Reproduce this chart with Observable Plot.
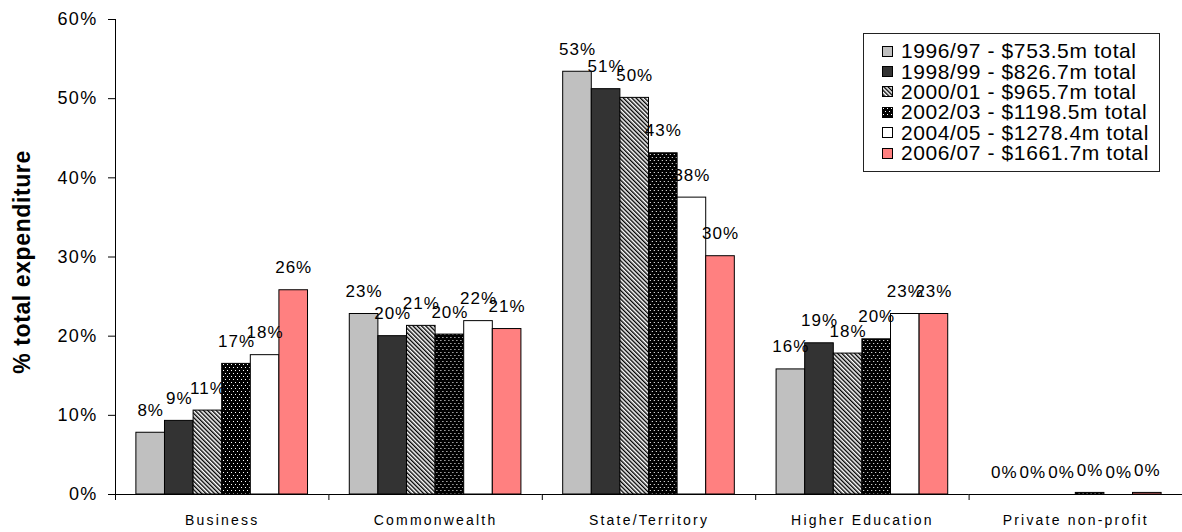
<!DOCTYPE html>
<html>
<head>
<meta charset="utf-8">
<script src="https://cdn.jsdelivr.net/npm/d3@7"></script>
<script src="https://cdn.jsdelivr.net/npm/@observablehq/plot@0.6"></script>
<style>
  body { margin: 0; background: #fff; font-family: "Liberation Sans", Arial, sans-serif; }
  #wrap { position: relative; width: 1182px; height: 532px; overflow: hidden; }
  #ytitle { position: absolute; left: 22px; top: 262px; transform: translate(-50%, -50%) rotate(-90deg);
            white-space: nowrap; font-weight: bold; font-size: 23px; letter-spacing: 0.6px; color: #000; }
  #legend { position: absolute; left: 863px; top: 33px; width: 297px; height: 139px; box-sizing: border-box;
            border: 1px solid #222; background: #fff; padding: 7px 0 0 18px; }
  .lrow { display: flex; align-items: center; height: 20.4px; font-size: 21px; letter-spacing: 0.6px; color: #000; white-space: nowrap; }
  .lrow svg { margin-right: 8px; flex: none; }
  .chart g[aria-label="fx-axis tick label"] text { letter-spacing: 2.2px; }
  .chart g[aria-label="y-axis tick label"] text { letter-spacing: 1.3px; }
  .chart g[aria-label="text"] text { letter-spacing: 1px; }
</style>
</head>
<body>
<div id="wrap"></div>
<script>
// ---- data ----
const categories = ["Business", "Commonwealth", "State/Territory", "Higher Education", "Private non-profit"];
const periods = ["1996/97", "1998/99", "2000/01", "2002/03", "2004/05", "2006/07"];
const legendLabels = [
  "1996/97 - $753.5m total",
  "1998/99 - $826.7m total",
  "2000/01 - $965.7m total",
  "2002/03 - $1198.5m total",
  "2004/05 - $1278.4m total",
  "2006/07 - $1661.7m total"
];
const business         = [7.8, 9.3, 10.6, 16.5, 17.6, 25.8];
const commonwealth     = [22.8, 20.0, 21.3, 20.2, 21.9, 20.9];
const stateTerritory   = [53.4, 51.2, 50.1, 43.1, 37.5, 30.1];
const higherEducation  = [15.8, 19.1, 17.8, 19.6, 22.8, 22.8];
const privateNonProfit = [0, 0, 0, 0.2, 0, 0.2];
const yTicks = [0, 10, 20, 30, 40, 50, 60];

// ---- styles ----
const fills = ["#c0c0c0", "#333333", "url(#hatch)", "url(#dots)", "#ffffff", "#ff8080"];

const valueSets = [business, commonwealth, stateTerritory, higherEducation, privateNonProfit];
const rows = categories.flatMap((cat, ci) =>
  periods.map((period, pi) => ({cat, period, value: valueSets[ci][pi], fill: fills[pi]}))
);

const W = 1182, H = 532, ML = 115, MR = 0, MT = 19, MB = 38;
const pOuter = 0.73;
const facetW = (W - ML - MR) / categories.length;
const step = facetW / (periods.length + 2 * pOuter);
const boundaryOffset = step * (0.5 + pOuter);

const chart = Plot.plot({
  width: W,
  height: H,
  marginLeft: ML,
  marginRight: MR,
  marginTop: MT,
  marginBottom: MB,
  className: "chart",
  style: {fontFamily: "'Liberation Sans', Arial, sans-serif", fontSize: "17px", background: "#fff", color: "#000"},
  fx: {domain: categories, padding: 0, round: false, label: null, axis: null},
  x: {domain: periods, paddingInner: 0, paddingOuter: pOuter, round: false, axis: null},
  y: {domain: [0, 60], axis: null},
  color: {type: "identity"},
  marks: [
    Plot.barY(rows, {fx: "cat", x: "period", y: "value", fill: "fill", stroke: "#000", strokeWidth: 1}),
    Plot.text(rows, {fx: "cat", x: "period", y: "value", text: d => Math.round(d.value) + "%",
      lineAnchor: "bottom", dy: -17, fontSize: 17, fill: "#000"}),
    Plot.ruleY([0], {stroke: "#000", strokeWidth: 1}),
    Plot.ruleX([periods[0]], {x: d => d, y1: 0, y2: 0, insetBottom: -6, dx: -boundaryOffset, stroke: "#000"}),
    Plot.ruleX([periods[0]], {fx: () => categories[0], x: d => d, y1: 0, y2: 60, dx: -boundaryOffset, stroke: "#000"}),
    Plot.axisY({ticks: yTicks, tickFormat: d => d + "%", tickSize: 7, tickPadding: 11, fontSize: 18, label: null, stroke: "#000"}),
    Plot.axisFx({anchor: "bottom", tickSize: 0, tickPadding: 21, fontSize: 14, label: null})
  ]
});

// patterns
const defs = d3.select(chart).insert("defs", ":first-child");
const hatch = defs.append("pattern").attr("id", "hatch").attr("patternUnits", "userSpaceOnUse")
  .attr("width", 3).attr("height", 3).attr("patternTransform", "rotate(-45)");
hatch.append("rect").attr("width", 3).attr("height", 3).attr("fill", "#fff");
hatch.append("rect").attr("width", 1.4).attr("height", 3).attr("fill", "#000");
const dots = defs.append("pattern").attr("id", "dots").attr("patternUnits", "userSpaceOnUse")
  .attr("width", 4).attr("height", 6);
dots.append("rect").attr("width", 4).attr("height", 6).attr("fill", "#000");
dots.append("rect").attr("x", 1).attr("y", 1).attr("width", 1).attr("height", 1).attr("fill", "#fff");
dots.append("rect").attr("x", 3).attr("y", 4).attr("width", 1).attr("height", 1).attr("fill", "#fff");

const wrap = document.getElementById("wrap");
wrap.appendChild(chart);

// y title
const yt = document.createElement("div");
yt.id = "ytitle";
yt.textContent = "% total expenditure";
wrap.appendChild(yt);

// legend
const legend = d3.select(wrap).append("div").attr("id", "legend");
legendLabels.forEach((lab, i) => {
  const row = legend.append("div").attr("class", "lrow");
  const s = row.append("svg").attr("width", 11).attr("height", 11);
  s.append("rect").attr("x", 0.5).attr("y", 0.5).attr("width", 10).attr("height", 10)
    .attr("fill", fills[i]).attr("stroke", "#000");
  row.append("span").text(lab);
});
</script>
</body>
</html>
